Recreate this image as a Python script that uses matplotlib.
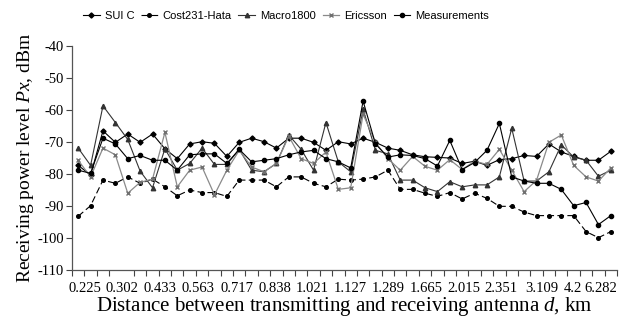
import matplotlib
matplotlib.use("Agg")
import matplotlib.pyplot as plt
import numpy as np

# distances shown under the axis (every third measuring point is labelled)
dist_labels = ["0.225", "0.302", "0.433", "0.563", "0.717", "0.838", "1.021", "1.127",
               "1.289", "1.665", "2.015", "2.351", "3.109", "4.2", "6.282"]

# receiving power level, dBm, at the 44 measuring points
sui_c = [-77.3, -80.3, -66.5, -70.1, -67.5, -70.1, -67.5, -72.1, -75.2, -70.6, -69.9,
         -70.4, -74.5, -70.1, -68.8, -69.9, -71.9, -68.8, -68.8, -70.1, -72.6, -69.9,
         -70.6, -68.8, -70.1, -71.9, -72.6, -74.0, -74.6, -74.8, -75.0, -76.7, -76.0,
         -77.3, -75.5, -75.2, -74.2, -74.5, -70.6, -73.1, -74.5, -75.7, -75.7, -72.9]
cost231 = [-93.2, -89.9, -81.9, -82.9, -80.9, -82.9, -81.6, -84.0, -86.8, -85.0, -85.8,
           -85.8, -87.0, -81.9, -81.9, -81.9, -84.0, -80.9, -80.9, -82.9, -84.0, -81.6,
           -81.9, -81.6, -80.9, -78.8, -84.8, -84.8, -86.0, -87.0, -85.8, -87.8, -86.0,
           -87.6, -90.1, -90.1, -91.9, -93.0, -93.0, -93.0, -93.0, -98.0, -99.9, -98.0]
macro1800 = [-71.9, -77.3, -58.7, -63.9, -69.2, -79.1, -84.3, -72.1, -78.8, -76.7, -71.9,
             -77.0, -77.0, -72.3, -78.8, -79.3, -76.7, -67.8, -72.3, -78.8, -63.9, -76.2,
             -79.3, -59.8, -72.6, -73.7, -81.9, -81.9, -84.3, -85.5, -82.4, -84.0, -83.4,
             -83.4, -80.9, -65.7, -82.2, -82.2, -79.3, -70.9, -74.7, -75.7, -80.7, -78.8]
ericsson = [-75.7, -80.9, -71.9, -74.0, -86.0, -82.6, -81.6, -67.0, -84.0, -78.8, -77.8,
            -86.5, -78.8, -72.6, -77.8, -79.3, -76.7, -68.2, -75.2, -76.7, -73.1, -84.8,
            -84.3, -61.3, -70.1, -75.2, -78.8, -74.5, -77.6, -78.8, -75.5, -78.6, -76.0,
            -77.0, -72.3, -78.8, -85.5, -82.0, -70.1, -67.8, -77.3, -80.9, -82.2, -78.1]
measurements = [-78.8, -79.8, -68.8, -70.6, -75.2, -74.2, -75.7, -75.7, -78.8, -74.0,
                -73.7, -73.7, -76.7, -72.3, -76.2, -75.7, -75.2, -74.0, -73.1, -72.6,
                -75.2, -76.2, -78.1, -57.2, -70.6, -74.7, -74.0, -74.2, -75.2, -77.5,
                -69.5, -78.6, -76.4, -72.6, -64.2, -80.9, -82.2, -82.9, -82.9, -84.8,
                -89.9, -88.9, -95.8, -93.0]

serif = "Liberation Serif"
sans = "Liberation Sans"
plt.rcParams["axes.unicode_minus"] = False
plt.rcParams["mathtext.fontset"] = "custom"
plt.rcParams["mathtext.rm"] = serif
plt.rcParams["mathtext.it"] = serif + ":italic"

fig = plt.figure(figsize=(6.3, 3.22), dpi=100)
ax = fig.add_axes([0.1143, 0.1615, 0.8651, 0.6955])

x = np.arange(len(measurements))
ax.plot(x, sui_c, color="black", lw=0.8, marker="D", ms=2.6, label="SUI C")
ax.plot(x, cost231, color="black", lw=0.8, ls=(0, (6, 3)), marker="o", ms=2.6,
        label="Cost231-Hata")
ax.plot(x, macro1800, color="#333333", lw=0.8, marker="^", ms=3.2, label="Macro1800")
ax.plot(x, ericsson, color="#8a8a8a", lw=0.9, marker="x", ms=3.2, mec="#707070",
        label="Ericsson")
ax.plot(x, measurements, color="black", lw=0.8, marker="o", ms=3.0, label="Measurements")

ax.set_xlim(-0.5, len(x) - 0.5)
ax.set_ylim(-110, -40)
ax.set_yticks(np.arange(-110, -39, 10))
ax.set_yticklabels([str(v) for v in range(-110, -39, 10)], fontfamily=serif, fontsize=10.5)

# label centres in category units, as placed in the original figure
label_pos = [0.55, 3.5, 6.6, 9.7, 12.8, 15.9, 18.9, 22.0, 25.0, 28.1, 31.1, 34.1, 37.4, 39.9, 42.2]
ax.set_xticks(label_pos)
ax.set_xticklabels(dist_labels, fontfamily=serif, fontsize=10.5)
ax.tick_params(axis="x", which="major", length=0, pad=9)
ax.set_xticks(np.arange(-0.5, len(x), 1.0), minor=True)
ax.tick_params(axis="x", which="minor", length=4, width=0.8, direction="out", color="#444444")
ax.tick_params(axis="y", length=4, width=0.8, direction="out", color="#444444", pad=2)

for s in ["top", "right"]:
    ax.spines[s].set_visible(False)
for s in ["left", "bottom"]:
    ax.spines[s].set_color("#555555")
    ax.spines[s].set_linewidth(0.9)

ax.set_xlabel("Distance between transmitting and receiving antenna $d$, km",
              fontfamily=serif, fontsize=15, labelpad=0)
ax.set_ylabel("Receiving power level $Px$, dBm", fontfamily=serif, fontsize=14,
              labelpad=1)

fig.legend(loc="center", bbox_to_anchor=(0.454, 0.95), ncol=5, frameon=False,
           prop={"family": sans, "size": 8}, handlelength=1.5, columnspacing=0.6,
           handletextpad=0.45)

fig.savefig("out.png", dpi=100)
